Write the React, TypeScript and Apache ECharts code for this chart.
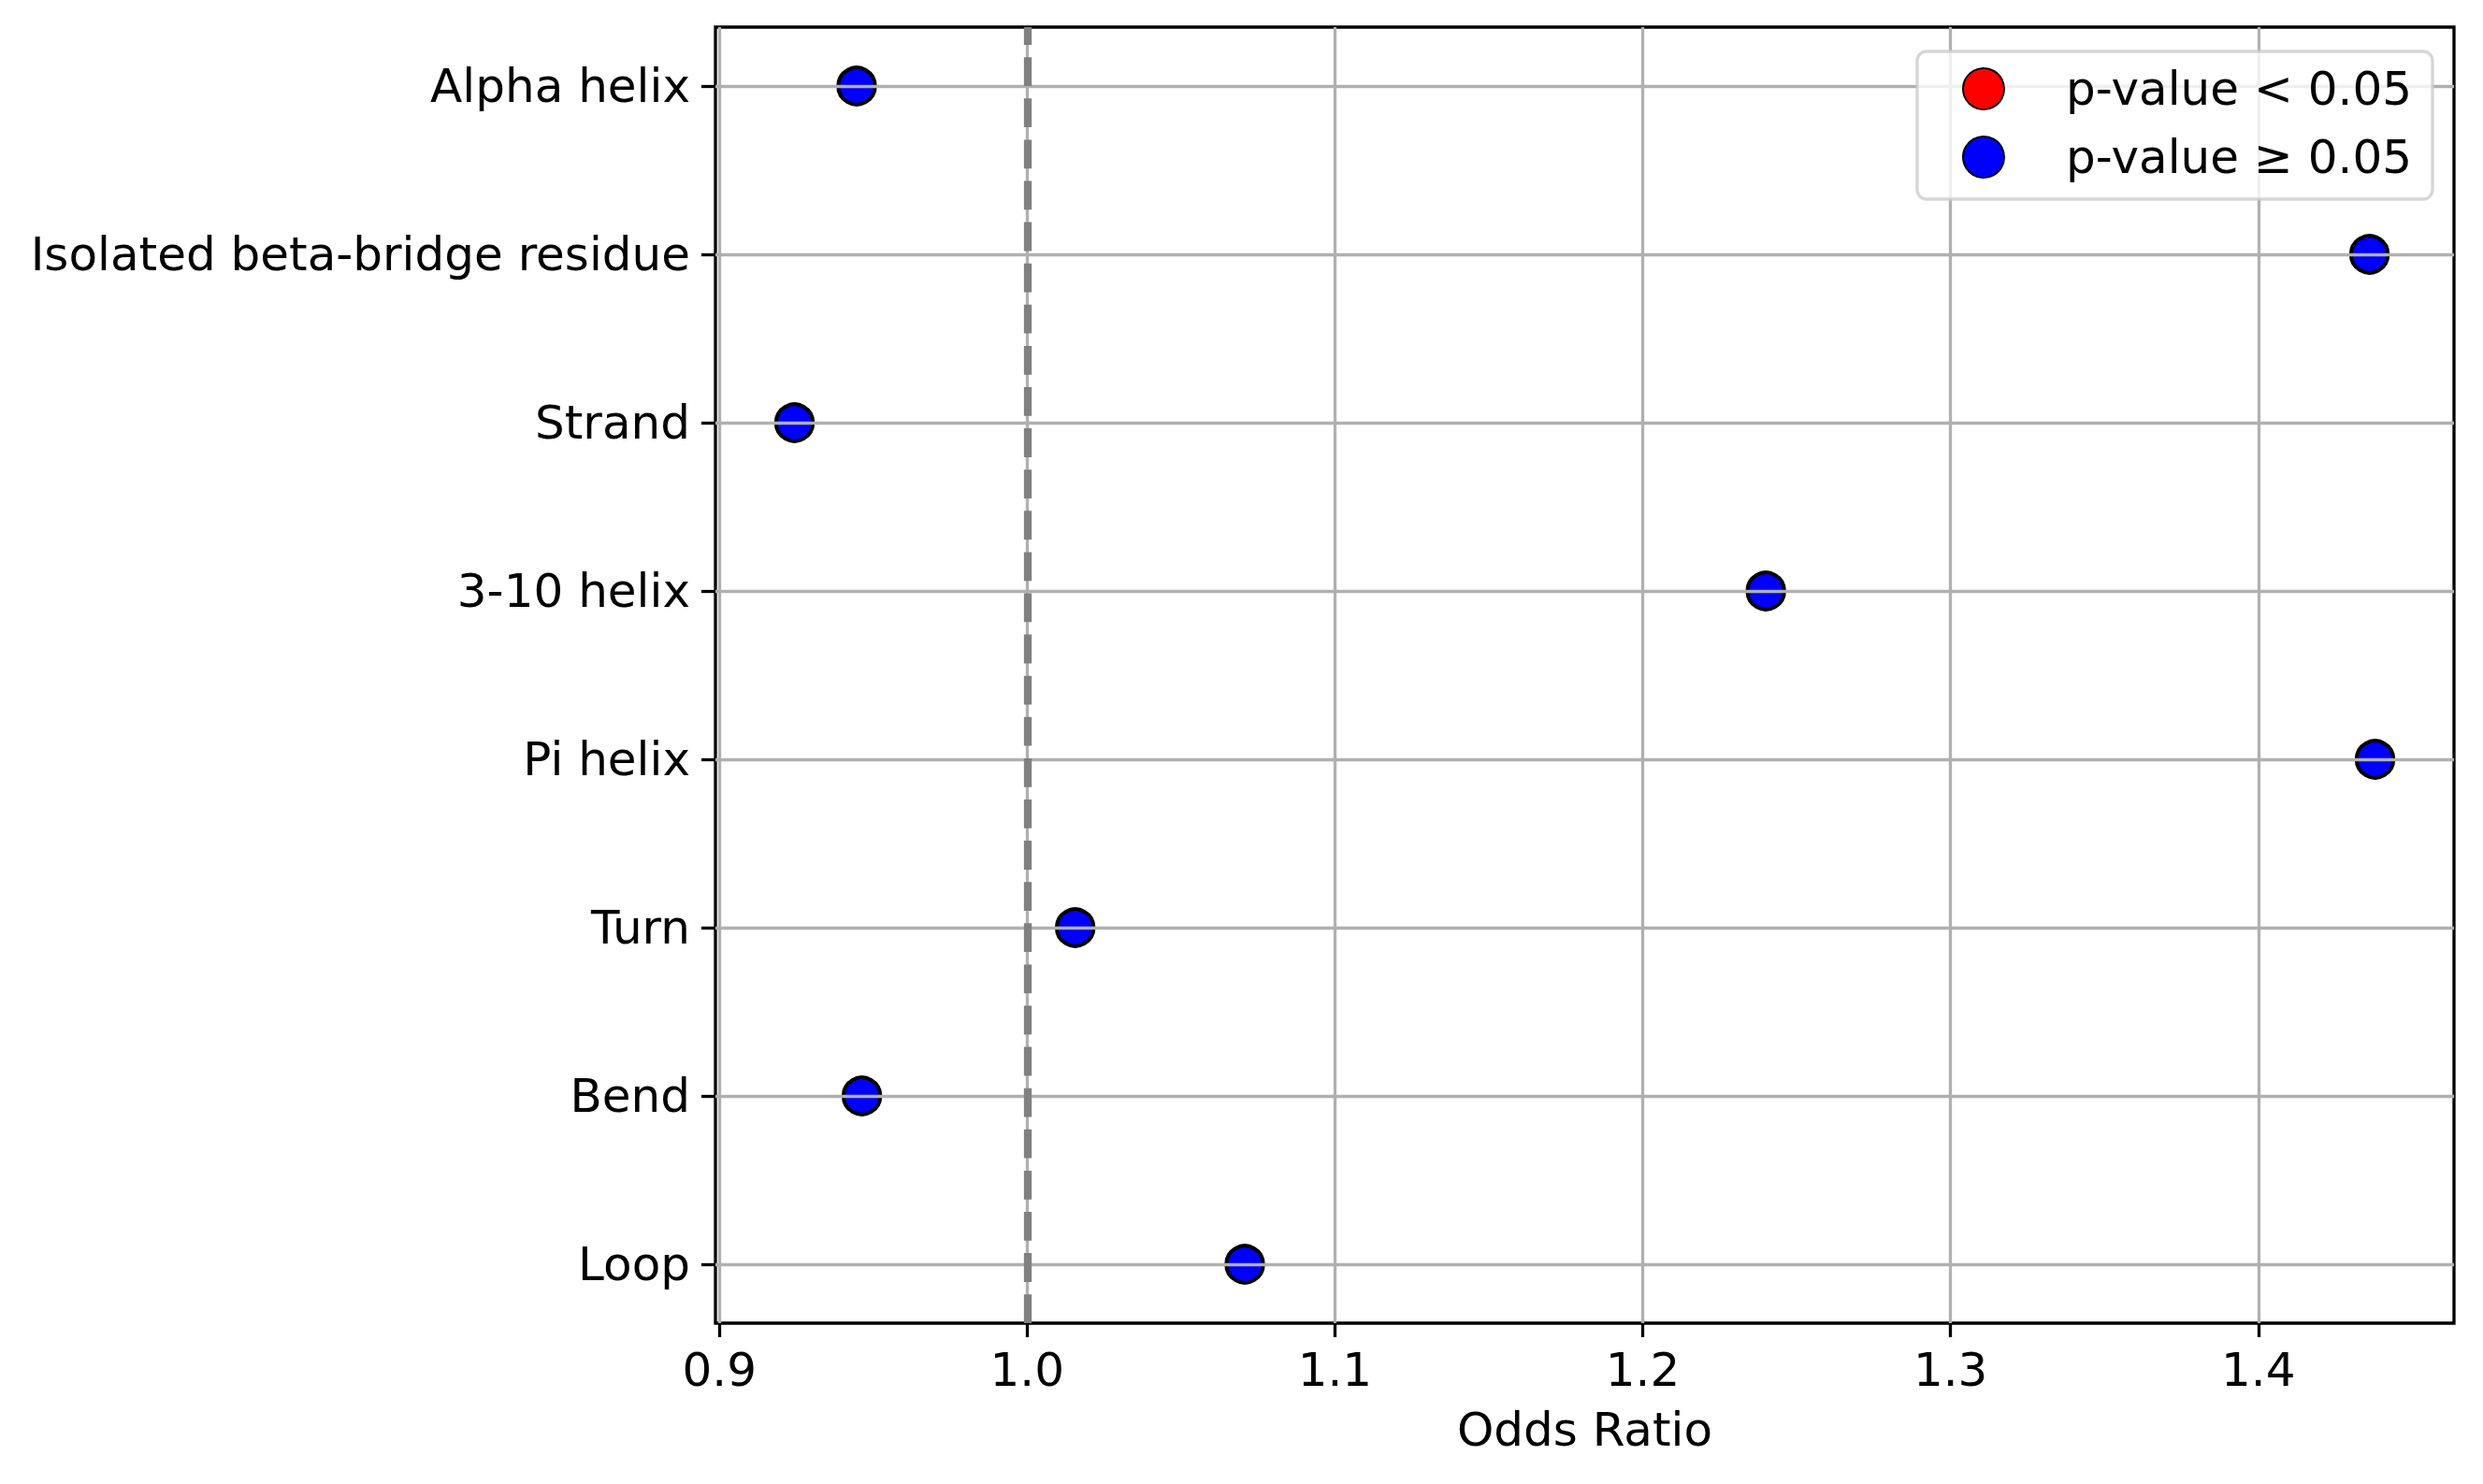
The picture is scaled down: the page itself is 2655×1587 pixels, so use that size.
import React, { useEffect, useRef } from 'react';
import * as echarts from 'echarts';

const categories = [
  'Alpha helix',
  'Isolated beta-bridge residue',
  'Strand',
  '3-10 helix',
  'Pi helix',
  'Turn',
  'Bend',
  'Loop',
];
const oddsRatios = [0.9446, 1.4361, 0.9244, 1.24, 1.4379, 1.0156, 0.9463, 1.0707];
const isSignificant = [false, false, false, false, false, false, false, false];
const xTicks = [0.9, 1.0, 1.1, 1.2, 1.3, 1.4];
const referenceOR = 1.0;
const seriesNames = ['p-value < 0.05', 'p-value \u2265 0.05'];
const seriesColors = ['#ff0000', '#0000ff'];

const FONT = 'DejaVu Sans';

export default function App() {
  const ref = useRef<HTMLDivElement>(null);
  useEffect(() => {
    if (!ref.current) return;
    const chart = echarts.init(ref.current, null, { renderer: 'svg' });
    const lo = Math.min(...oddsRatios);
    const hi = Math.max(...oddsRatios);
    const xPad = (hi - lo) * 0.05;
    const yPad = (categories.length - 1) * 0.05;
    const yMin = -yPad;
    const yMax = categories.length - 1 + yPad;
    const yTicks = categories.map((_, i) => i);
    const sig: number[][] = [];
    const nonsig: number[][] = [];
    categories.forEach((_, i) => {
      (isSignificant[i] ? sig : nonsig).push([oddsRatios[i], i]);
    });
    const mkSeries = (name: string, color: string, data: number[][], withLine: boolean) => {
      const s: any = {
        name,
        type: 'scatter',
        data,
        symbol: 'circle',
        symbolSize: 39.5,
        z: 2,
        itemStyle: { color, borderColor: '#000', borderWidth: 4, opacity: 1 },
        emphasis: { disabled: true },
        silent: true,
      };
      if (withLine) {
        s.markLine = {
          silent: true,
          symbol: ['none', 'none'],
          label: { show: false },
          z: 5,
          lineStyle: { color: '#808080', width: 8.3, type: [30.8, 13.3], opacity: 1 },
          data: [[{ coord: [referenceOR, yMax] }, { coord: [referenceOR, yMin] }]],
        };
      }
      return s;
    };
    chart.setOption({
      animation: false,
      backgroundColor: '#ffffff',
      grid: {
        left: 765,
        top: 29,
        width: 1859,
        height: 1386,
        show: true,
        borderColor: '#000',
        borderWidth: 3.3,
        backgroundColor: 'transparent',
      },
      legend: {
        orient: 'vertical',
        left: 2050,
        top: 55,
        padding: [15, 22, 20, 48],
        itemGap: 23,
        itemWidth: 44,
        itemHeight: 44,
        icon: 'circle',
        selectedMode: false,
        backgroundColor: 'rgba(255,255,255,0.8)',
        borderColor: 'rgba(204,204,204,0.8)',
        borderWidth: 3.3,
        borderRadius: 10,
        data: seriesNames,
        itemStyle: { opacity: 1 },
        formatter: (name: string) => '{g|}' + name,
        textStyle: {
          fontFamily: FONT,
          fontSize: 50,
          color: '#000',
          rich: { g: { width: 61 } },
        },
        z: 10,
      },
      xAxis: {
        type: 'value',
        min: lo - xPad,
        max: hi + xPad,
        z: 3,
        name: 'Odds Ratio',
        nameLocation: 'middle',
        nameGap: 89,
        nameTextStyle: { fontFamily: FONT, fontSize: 50, color: '#000' },
        axisLine: { show: false, onZero: false },
        axisTick: {
          show: true,
          customValues: xTicks,
          length: 15,
          lineStyle: { color: '#000', width: 3.3 },
        },
        axisLabel: {
          customValues: xTicks,
          margin: 25,
          fontFamily: FONT,
          fontSize: 50,
          color: '#000',
          formatter: (v: number) => v.toFixed(1),
        },
        splitLine: { show: true, lineStyle: { color: '#b0b0b0', width: 3.3 } },
      },
      yAxis: {
        type: 'value',
        inverse: true,
        min: yMin,
        max: yMax,
        z: 3,
        axisLine: { show: false, onZero: false },
        axisTick: {
          show: true,
          customValues: yTicks,
          length: 15,
          lineStyle: { color: '#000', width: 3.3 },
        },
        axisLabel: {
          customValues: yTicks,
          margin: 27,
          fontFamily: FONT,
          fontSize: 50,
          color: '#000',
          formatter: (v: number) => categories[Math.round(v)] ?? '',
        },
        splitLine: { show: true, lineStyle: { color: '#b0b0b0', width: 3.3 } },
      },
      series: [
        mkSeries(seriesNames[0], seriesColors[0], sig, false),
        mkSeries(seriesNames[1], seriesColors[1], nonsig, true),
      ],
    });
    return () => chart.dispose();
  }, []);
  return (
    <div
      ref={ref}
      style={{ position: 'absolute', left: 0, top: 0, width: 2655, height: 1587, background: '#fff' }}
    />
  );
}
